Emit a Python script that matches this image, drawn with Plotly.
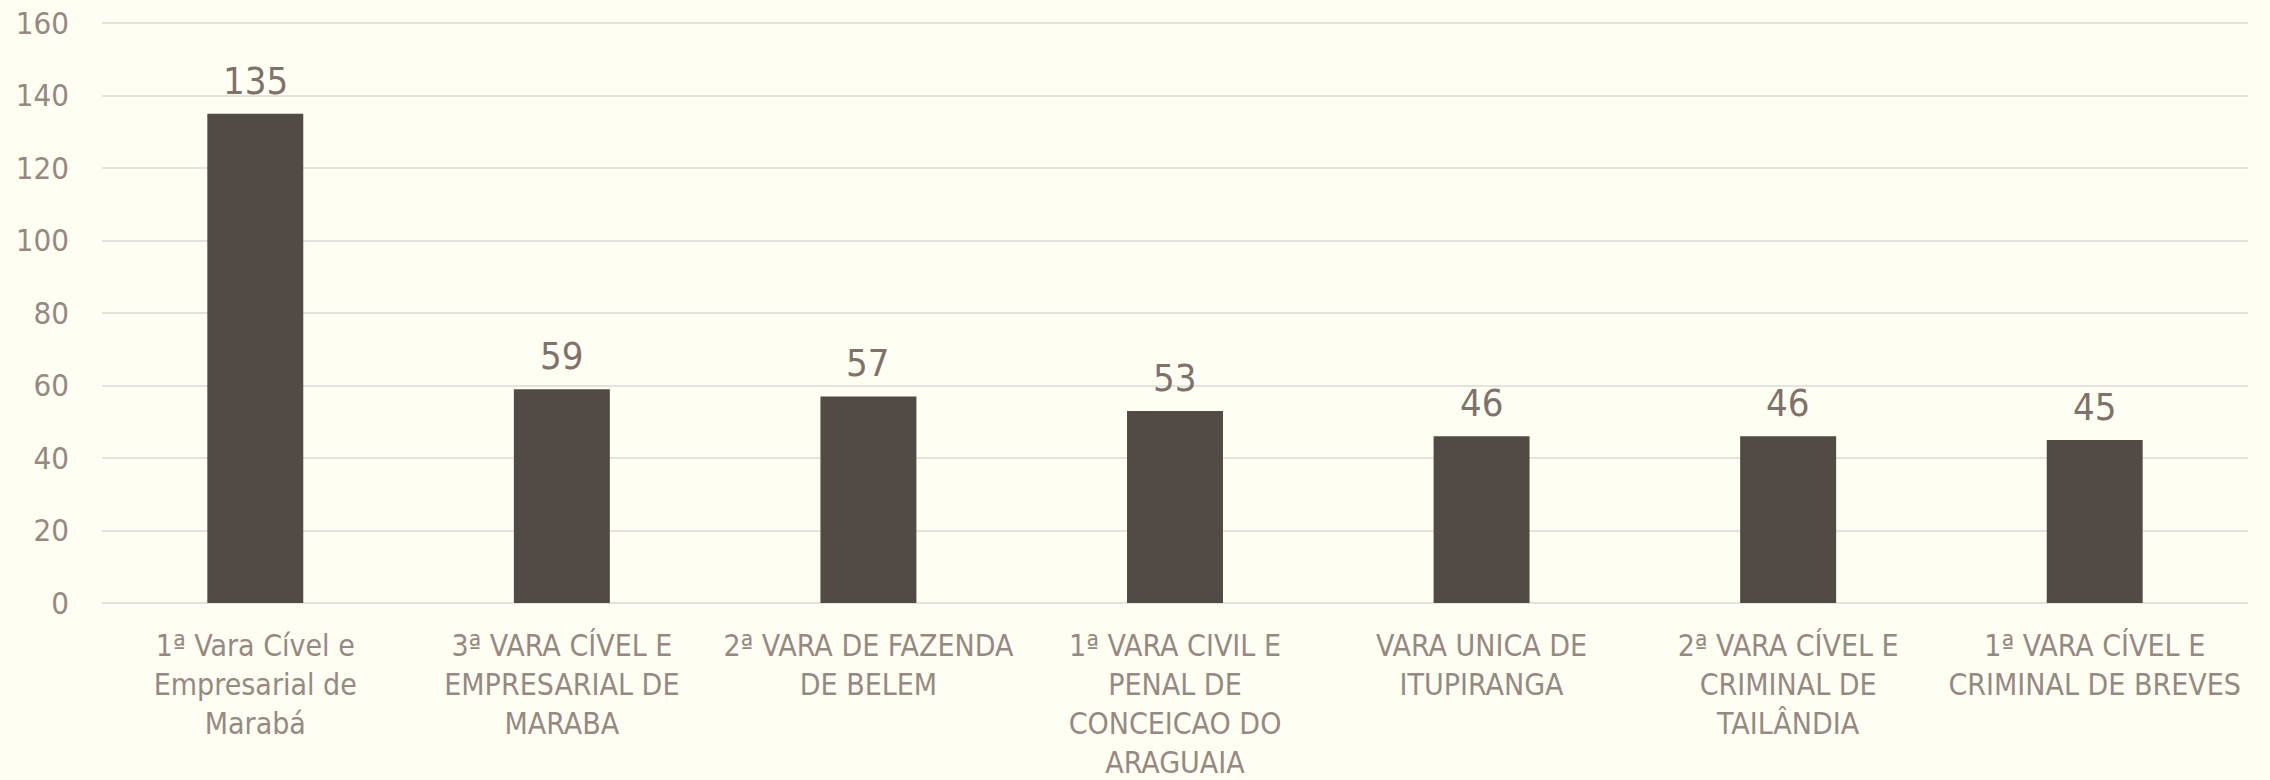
import plotly.graph_objects as go

categories = [
    "1ª Vara Cível e<br>Empresarial de<br>Marabá",
    "3ª VARA CÍVEL E<br>EMPRESARIAL DE<br>MARABA",
    "2ª VARA DE FAZENDA<br>DE BELEM",
    "1ª VARA CIVIL E<br>PENAL DE<br>CONCEICAO DO<br>ARAGUAIA",
    "VARA UNICA DE<br>ITUPIRANGA",
    "2ª VARA CÍVEL E<br>CRIMINAL DE<br>TAILÂNDIA",
    "1ª VARA CÍVEL E<br>CRIMINAL DE BREVES",
]
values = [135, 59, 57, 53, 46, 46, 45]
y_ticks = [0, 20, 40, 60, 80, 100, 120, 140, 160]

FONT = "Liberation Sans Narrow, DejaVu Sans Condensed, sans-serif"
BG = "#FFFEF2"

fig = go.Figure()
fig.add_trace(go.Bar(
    x=categories, y=values,
    marker=dict(color="#524A44", line=dict(width=0)),
    width=0.313,
))
for c, v in zip(categories, values):
    fig.add_annotation(x=c, y=v, text=str(v), showarrow=False,
                       yanchor="bottom", yshift=9,
                       font=dict(family=FONT, size=38, color="#7F726C"))

fig.update_layout(
    width=2270, height=780,
    margin=dict(l=102, r=22, t=22, b=177, autoexpand=False),
    paper_bgcolor=BG, plot_bgcolor=BG,
    showlegend=False,
    font=dict(family=FONT, color="#968983"),
)
fig.update_xaxes(tickfont=dict(size=30, color="#968983"), showline=False,
                 ticks="", showgrid=False, ticklabelstandoff=22,
                 automargin=False)
fig.update_yaxes(range=[0, 160.3], tickvals=y_ticks, showgrid=True,
                 gridcolor="#E5E3DD", gridwidth=2, zeroline=True,
                 zerolinecolor="#E5E3DD", zerolinewidth=2,
                 tickfont=dict(size=31, color="#968983"), ticks="",
                 ticklabelstandoff=32, automargin=False)

fig.write_html(
    "out.html",
    config={"displayModeBar": False},
    post_script="document.body.style.margin='0';document.body.style.background='%s';" % BG,
)
